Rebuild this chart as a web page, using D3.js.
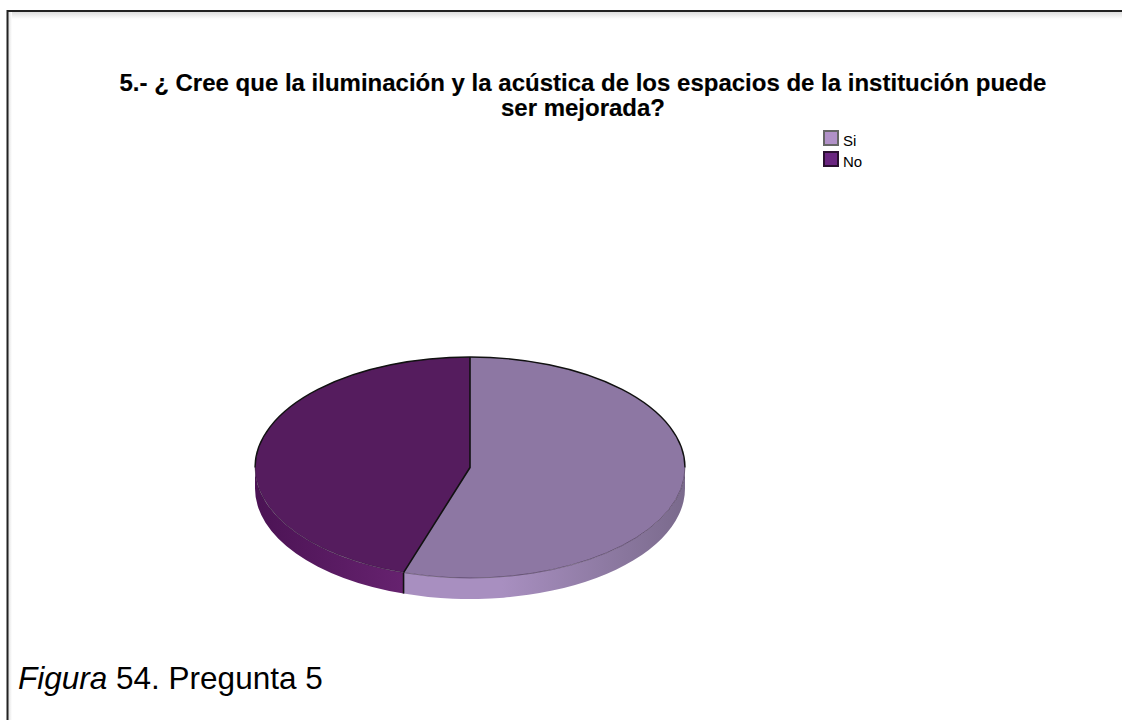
<!DOCTYPE html>
<html><head><meta charset="utf-8">
<script src="https://cdnjs.cloudflare.com/ajax/libs/d3/7.8.5/d3.min.js"></script>
<style>html,body{margin:0;padding:0;background:#fff}svg{display:block}text{font-family:"Liberation Sans",Arial,sans-serif;fill:#000}</style>
</head><body><svg id="c" width="1122" height="720"></svg>
<script>
const categories = ["Si","No"];
const values = [55,45];
const topColors = ["#8d77a3","#551c5e"];
const legendColors = ["#b191c8","#6a2580"];
const sideStops = [["#7a6a8c","#a88fc0"],["#4b1354","#66226f"]];
const titleLines = ["5.- ¿ Cree que la iluminación y la acústica de los espacios de la institución puede","ser mejorada?"];

const W=1122,H=720,cx=470,cy=467.5,rx=215,ry=110.5,depth=21;
const svg=d3.select("#c");
const defs=svg.append("defs");
const shadow=defs.append("linearGradient").attr("id","sh").attr("x1",0).attr("x2",0).attr("y1",0).attr("y2",1);
shadow.append("stop").attr("offset",0).attr("stop-color","#dedede");
shadow.append("stop").attr("offset",1).attr("stop-color","#fff");
const shadowL=defs.append("linearGradient").attr("id","shl");
shadowL.append("stop").attr("offset",0).attr("stop-color","#dedede");
shadowL.append("stop").attr("offset",1).attr("stop-color","#fff");
svg.append("rect").attr("x",8).attr("y",12).attr("width",W-8).attr("height",7).attr("fill","url(#sh)");
svg.append("rect").attr("x",8).attr("y",12).attr("width",4).attr("height",H-12).attr("fill","url(#shl)");
svg.append("path").attr("d",`M7.5,${H}V11H${W}`).attr("fill","none").attr("stroke","#222").attr("stroke-width",2);

svg.append("g").selectAll("text").data(titleLines).join("text")
 .attr("x",583).attr("y",(d,i)=>91+i*24.5).attr("text-anchor","middle")
 .attr("font-size",24).attr("font-weight","bold").attr("stroke","#000").attr("stroke-width",0.15)
 .text(d=>d);

const lg=svg.append("g").selectAll("g").data(categories).join("g")
 .attr("transform",(d,i)=>`translate(824,${131+i*21})`);
lg.append("rect").attr("width",14).attr("height",14).attr("fill",(d,i)=>legendColors[i])
 .attr("stroke",(d,i)=>i?"#2a1030":"#666").attr("stroke-width",2);
lg.append("text").attr("x",19).attr("y",14.5).attr("font-size",15).attr("fill","#222").text(d=>d);

const arcs=d3.pie().sort(null).value(d=>d)(values);
const px=a=>cx+rx*Math.sin(a), py=a=>cy-ry*Math.cos(a);
const pi=Math.PI;
arcs.forEach((a,i)=>{
  const s=Math.max(a.startAngle,pi/2), e=Math.min(a.endAngle,3*pi/2);
  if(e<=s) return;
  const x0=Math.min(px(s),px(e)),x1=Math.max(px(s),px(e));
  const g=defs.append("linearGradient").attr("id","side"+i).attr("gradientUnits","userSpaceOnUse")
    .attr("x1",i?x0:x1).attr("x2",i?x1:x0).attr("y1",0).attr("y2",0);
  g.append("stop").attr("offset",0).attr("stop-color",sideStops[i][0]);
  g.append("stop").attr("offset",i?1:0.65).attr("stop-color",sideStops[i][1]);
  const d=`M${px(s)},${py(s)}A${rx},${ry} 0 0 1 ${px(e)},${py(e)}`+
    `V${py(e)+depth}A${rx},${ry} 0 0 0 ${px(s)},${py(s)+depth}Z`;
  svg.append("path").attr("d",d).attr("fill",`url(#side${i})`);
});
const split=arcs[0].endAngle;
svg.append("line").attr("x1",px(split)).attr("x2",px(split)).attr("y1",py(split)).attr("y2",py(split)+depth)
 .attr("stroke","#111").attr("stroke-width",1.6);
// top face, without outline
const arc=d3.arc().innerRadius(0).outerRadius(rx);
svg.append("g").attr("transform",`translate(${cx},${cy}) scale(1,${ry/rx})`)
 .selectAll("path").data(arcs).join("path").attr("d",arc)
 .attr("fill",(d,i)=>topColors[i]);
// outlines: strong on the far rim and the radii, faint on the near rim
const rim=(a0,a1)=>`M${px(a0)},${py(a0)}A${rx},${ry} 0 0 1 ${px(a1)},${py(a1)}`;
svg.append("path").attr("d",rim(-pi/2,pi/2)).attr("fill","none").attr("stroke","#111").attr("stroke-width",1.4);
svg.append("path").attr("d",rim(pi/2,3*pi/2)).attr("fill","none").attr("stroke","#2a1a30").attr("stroke-opacity",.45).attr("stroke-width",1);
svg.append("path").attr("d",`M${px(0)},${py(0)}L${cx},${cy}L${px(split)},${py(split)}`)
 .attr("fill","none").attr("stroke","#111").attr("stroke-width",1.6).attr("stroke-linejoin","round");

const cap=svg.append("text").attr("x",18).attr("y",689).attr("font-size",31.5);
cap.append("tspan").attr("font-style","italic").text("Figura");
cap.append("tspan").text(" 54. Pregunta 5");
</script></body></html>
